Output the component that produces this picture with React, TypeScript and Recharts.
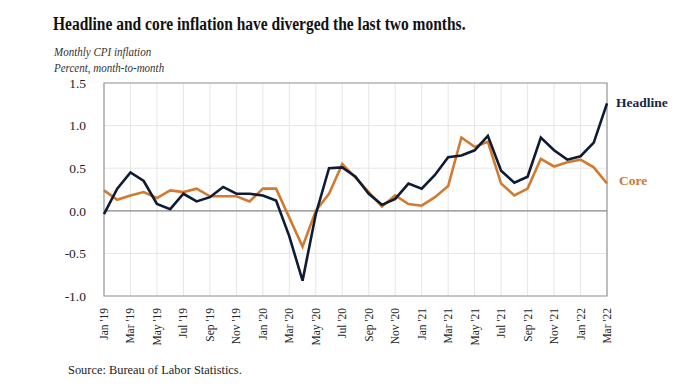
import { LineChart, Line, XAxis, YAxis, CartesianGrid, ReferenceLine, ReferenceArea } from "recharts"

const months = [
  "Jan '19", "Feb '19", "Mar '19", "Apr '19", "May '19", "Jun '19", "Jul '19", "Aug '19", "Sep '19", "Oct '19", "Nov '19", "Dec '19",
  "Jan '20", "Feb '20", "Mar '20", "Apr '20", "May '20", "Jun '20", "Jul '20", "Aug '20", "Sep '20", "Oct '20", "Nov '20", "Dec '20",
  "Jan '21", "Feb '21", "Mar '21", "Apr '21", "May '21", "Jun '21", "Jul '21", "Aug '21", "Sep '21", "Oct '21", "Nov '21", "Dec '21",
  "Jan '22", "Feb '22", "Mar '22",
]

const headline = [
  -0.04, 0.26, 0.45, 0.35, 0.08, 0.02, 0.2, 0.11, 0.16, 0.28, 0.2, 0.2,
  0.18, 0.12, -0.3, -0.82, -0.04, 0.5, 0.51, 0.4, 0.2, 0.07, 0.14, 0.32,
  0.26, 0.42, 0.63, 0.65, 0.71, 0.88, 0.47, 0.33, 0.4, 0.86, 0.71, 0.6,
  0.64, 0.8, 1.26,
]

const core = [
  0.24, 0.13, 0.18, 0.22, 0.15, 0.24, 0.22, 0.26, 0.17, 0.17, 0.17, 0.11,
  0.26, 0.26, -0.08, -0.42, 0.0, 0.2, 0.55, 0.39, 0.22, 0.05, 0.18, 0.08,
  0.06, 0.16, 0.29, 0.86, 0.75, 0.81, 0.32, 0.18, 0.26, 0.61, 0.52, 0.57,
  0.6, 0.51, 0.32,
]

const yTicks = [-1.0, -0.5, 0.0, 0.5, 1.0, 1.5]
const xTicks = months.filter((_, i) => i % 2 === 0)

const data = months.map((month, i) => ({ month, headline: headline[i], core: core[i] }))

const serif = "'Liberation Serif', 'Times New Roman', serif"
const navy = "#0f1a33"
const orange = "#d27a2f"

function MonthTick(props: any) {
  const { x, y, payload } = props
  return (
    <text
      x={x}
      y={y}
      transform={`rotate(-90, ${x}, ${y})`}
      dx={-4}
      dy={4}
      textAnchor="end"
      fontFamily={serif}
      fontSize={11.5}
      fill="#222"
    >
      {payload.value}
    </text>
  )
}

export default function App() {
  return (
    <div style={{ position: "fixed", left: 0, top: 0, width: 686, height: 391, background: "#fff", fontFamily: serif }}>
      <div
        style={{
          position: "absolute",
          left: 53,
          top: 14,
          fontSize: 18,
          fontWeight: "bold",
          color: "#111",
          whiteSpace: "nowrap",
          transform: "scaleX(0.86)",
          transformOrigin: "left top",
        }}
      >
        Headline and core inflation have diverged the last two months.
      </div>
      <div
        style={{
          position: "absolute",
          left: 54,
          top: 44,
          fontSize: 12.5,
          fontStyle: "italic",
          color: "#333",
          lineHeight: "16px",
          whiteSpace: "nowrap",
          transform: "scaleX(0.88)",
          transformOrigin: "left top",
        }}
      >
        Monthly CPI inflation
        <br />
        Percent, month-to-month
      </div>
      <LineChart width={686} height={391} data={data} margin={{ top: 83, right: 79, left: 0, bottom: 35 }}>
        <CartesianGrid stroke="#e6e6e6" strokeWidth={1} />
        <XAxis
          dataKey="month"
          ticks={xTicks}
          interval={0}
          height={60}
          tick={<MonthTick />}
          tickLine={false}
          axisLine={false}
        />
        <YAxis
          width={104}
          domain={[-1, 1.5]}
          ticks={yTicks}
          tickFormatter={(v: number) => v.toFixed(1)}
          tick={{ fontFamily: serif, fontSize: 13.5, fill: "#222" }}
          tickLine={false}
          axisLine={false}
          tickMargin={12}
        />
        <ReferenceArea x1="Jan '19" x2="Mar '22" y1={-1} y2={1.5} fill="none" stroke="#9a9a9a" strokeWidth={1.2} />
        <ReferenceLine y={0} stroke="#8a8a8a" strokeWidth={1.2} />
        <Line type="linear" dataKey="core" stroke={orange} strokeWidth={2.6} dot={false} isAnimationActive={false} />
        <Line type="linear" dataKey="headline" stroke={navy} strokeWidth={2.6} dot={false} isAnimationActive={false} />
      </LineChart>
      <div style={{ position: "absolute", left: 616, top: 95, fontSize: 13.5, fontWeight: "bold", color: "#1b2540" }}>Headline</div>
      <div style={{ position: "absolute", left: 619, top: 173, fontSize: 13.5, fontWeight: "bold", color: "#c87a38" }}>Core</div>
      <div style={{ position: "absolute", left: 68, top: 363, fontSize: 12.4, color: "#222" }}>Source: Bureau of Labor Statistics.</div>
    </div>
  )
}
